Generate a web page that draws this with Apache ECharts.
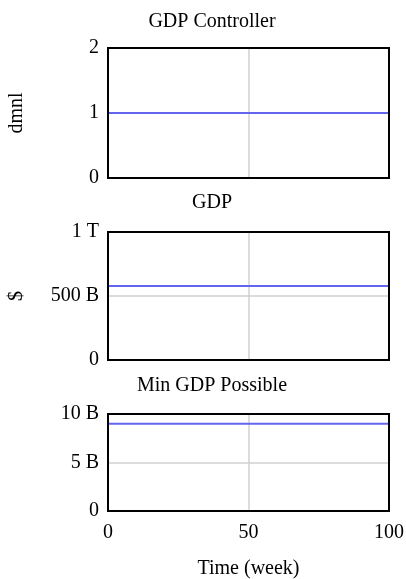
<!DOCTYPE html>
<html><head><meta charset="utf-8">
<script src="https://cdn.jsdelivr.net/npm/echarts@6/dist/echarts.min.js"></script>
<style>html,body{margin:0;padding:0;background:#fff;}#c{width:406px;height:579px;}</style>
</head><body><div id="c"></div>
<script>
var time = [0, 100];
var gdpController = [1, 1];
var gdp = [578e9, 578e9];
var minGdpPossible = [9.0e9, 9.0e9];
var titles = ['GDP Controller', 'GDP', 'Min GDP Possible'];
var xTicks = [0, 50, 100];
var yMax = [2, 1e12, 10e9];
var yUnits = ['dmnl', '$', ''];
var xName = 'Time (week)';

function fmtY(v) {
  if (v === 0) return '0';
  if (v >= 1e12) return (v / 1e12) + ' T';
  if (v >= 1e9) return (v / 1e9) + ' B';
  return String(v);
}
var FONT = 'Liberation Serif';
var FS = 20;
var grids = [
  {left: 108, width: 281, top: 48, height: 130},
  {left: 108, width: 281, top: 232, height: 128},
  {left: 108, width: 281, top: 414, height: 97}
];
var series = [gdpController, gdp, minGdpPossible];
var chart = echarts.init(document.getElementById('c'));
var option = {
  animation: false,
  textStyle: {fontFamily: FONT},
  grid: grids.map(function (g) { return Object.assign({show: true, borderColor: '#000', borderWidth: 2, backgroundColor: 'transparent', z: 5, containLabel: false, outerBoundsMode: 'none'}, g); }),
  xAxis: grids.map(function (g, i) {
    return {
      type: 'value', gridIndex: i, min: xTicks[0], max: xTicks[xTicks.length - 1], interval: 50,
      axisLine: {show: false}, axisTick: {show: false},
      axisLabel: {show: i === 2, color: '#000', fontFamily: FONT, fontSize: FS, margin: 12},
      splitLine: {show: true, lineStyle: {color: '#d0d0d0', width: 1.5}},
      name: i === 2 ? xName : '', nameLocation: 'middle', nameGap: 48,
      nameTextStyle: {color: '#000', fontFamily: FONT, fontSize: FS}
    };
  }),
  yAxis: grids.map(function (g, i) {
    return {
      type: 'value', gridIndex: i, min: 0, max: yMax[i], interval: yMax[i] / 2,
      axisLine: {show: false}, axisTick: {show: false},
      axisLabel: {color: '#000', fontFamily: FONT, fontSize: FS, margin: 9, formatter: fmtY},
      splitLine: {show: true, lineStyle: {color: '#d0d0d0', width: 1.5}},
      name: yUnits[i], nameLocation: 'middle', nameRotate: 90, nameGap: 81,
      nameTextStyle: {color: '#000', fontFamily: FONT, fontSize: FS}
    };
  }),
  graphic: [
    {type: 'text', x: 212, y: 22, style: {text: titles[0], fill: '#000', font: FS + 'px "' + FONT + '"', textAlign: 'center', textVerticalAlign: 'middle'}},
    {type: 'text', x: 212, y: 203, style: {text: titles[1], fill: '#000', font: FS + 'px "' + FONT + '"', textAlign: 'center', textVerticalAlign: 'middle'}},
    {type: 'text', x: 212, y: 386, style: {text: titles[2], fill: '#000', font: FS + 'px "' + FONT + '"', textAlign: 'center', textVerticalAlign: 'middle'}}
  ],
  series: series.map(function (d, i) {
    return {
      type: 'line', xAxisIndex: i, yAxisIndex: i, showSymbol: false, z: 3,
      lineStyle: {color: '#6464f0', width: 2},
      data: time.map(function (t, k) { return [t, d[k]]; })
    };
  })
};
chart.setOption(option);
</script>
</body></html>
